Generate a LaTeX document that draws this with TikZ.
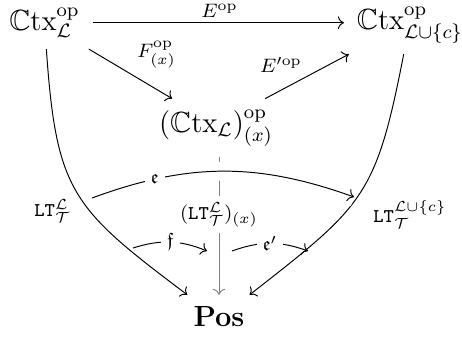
\documentclass[tikz,12pt,border=0pt]{standalone}
\usepackage{amsmath,amssymb}
\usetikzlibrary{cd}
\begin{document}
\begin{tikzpicture}[x=0.4115pt,y=0.4115pt,
  obj/.style={shape=asymmetrical rectangle, inner xsep=1ex, inner ysep=0.85ex, anchor=base},
  lab/.style={inner sep=0.5ex, anchor=base},
  desc/.style={fill=white, inner sep=0.5ex},
  arr/.style={-{cm to}, line width=0.4pt},
  cross/.style={preaction={draw=white, -, line width=1.5ex}}]
\useasboundingbox (0,0) rectangle (462,337);
% objects
\node[obj] (A) at (44.5,307) {$\mathbb{C}\mathrm{tx}^{\mathrm{op}}_{\mathcal{L}}$};
\node[obj] (B) at (410,308) {$\mathbb{C}\mathrm{tx}^{\mathrm{op}}_{\mathcal{L}\cup\{c\}}$};
\node[obj] (C) at (216,205) {$(\mathbb{C}\mathrm{tx}_{\mathcal{L}})^{\mathrm{op}}_{(x)}$};
\node[obj] (D) at (219,11) {$\mathbf{Pos}$};
% 1-cells
\draw[arr] (A.east) -- (A.east -| B.west);
\draw[arr] (A) -- (C);
\draw[arr] (C) -- (B);
\draw[arr] (A) to[out=-86,in=143,looseness=1.3] (D);
\draw[arr] (B) to[out=-101,in=38,looseness=1.3] (D);
\draw[arr,gray] (C.south -| D.north) -- (D.north);
% 2-cells
\coordinate (e1) at (92,139);
\coordinate (e2) at (354,140);
\coordinate (f1) at (133,89);
\coordinate (f2) at (207,86);
\coordinate (g1) at (232,86);
\coordinate (g2) at (308,86);
\draw[arr,cross] (e1) to[bend left=20] node[pos=0.23,desc] (el) {$\scriptstyle\mathfrak{e}$} (e2);
\draw[arr] (f1) to[bend left=20] node[pos=0.5,desc] (fl) {$\scriptstyle\mathfrak{f}$} (f2);
\draw[arr] (g1) to[bend left=20] node[pos=0.5,desc] (gl) {$\scriptstyle\mathfrak{e}'$} (g2);
% labels
\node[lab] (Elab) at (219.5,320) {$\scriptstyle E^{\mathrm{op}}$};
\node[lab] (Flab) at (156.5,280) {$\scriptstyle F^{\mathrm{op}}_{(x)}$};
\node[lab] (E2lab) at (281,265) {$\scriptstyle E'^{\mathrm{op}}$};
\node[lab] (Llab) at (52.5,121) {$\scriptstyle \mathtt{LT}^{\mathcal{L}}_{\mathcal{T}}$};
\node[lab] (Rlab) at (410,115) {$\scriptstyle \mathtt{LT}^{\mathcal{L}\cup\{c\}}_{\mathcal{T}}$};
\node[desc,anchor=base] (Mlab) at (219,118) {$\scriptstyle (\mathtt{LT}^{\mathcal{L}}_{\mathcal{T}})_{(x)}$};
\end{tikzpicture}
\end{document}
